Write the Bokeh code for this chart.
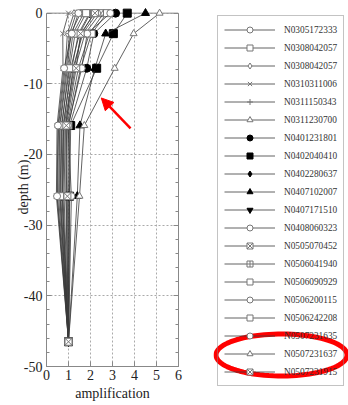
from bokeh.plotting import figure
from bokeh.layouts import row
from bokeh.models import (Range1d, Legend, LegendItem, LinearAxis, FixedTicker,
                          CustomJSTickFormatter, Arrow, NormalHead, BoxAnnotation, Span,
                          PolyAnnotation)
from bokeh.embed import file_html
from bokeh.resources import INLINE
import numpy as np

# ---------------- data ----------------
depths = [0, -2.9, -7.8, -15.9, -25.9, -46.5]

names = ["N0305172333", "N0308042057", "N0308042057", "N0310311006", "N0311150343",
         "N0311230700", "N0401231801", "N0402040410", "N0402280637", "N0407102007",
         "N0407171510", "N0408060323", "N0505070452", "N0506041940", "N0506090929",
         "N0506200115", "N0506242208", "N0507231635", "N0507231637", "N0507231915"]

markers = ["circle", "square", "diamond", "x", "cross",
           "triangle", "circle", "square", "diamond", "triangle",
           "inverted_triangle", "circle", "square_x", "square_cross", "square",
           "circle", "square", "circle", "triangle", "square_x"]

filled = [False, False, False, False, False,
          False, True, True, True, True,
          True, False, False, False, False,
          False, False, False, False, False]

amp_01 = [1.55, 1.10, 0.95, 0.62, 0.60, 1.0]
amp_02 = [2.45, 1.75, 1.30, 0.85, 0.80, 1.0]
amp_03 = [1.25, 0.95, 0.85, 0.55, 0.50, 1.0]
amp_04 = [1.00, 0.74, 0.75, 0.48, 0.45, 1.0]
amp_05 = [1.35, 1.05, 0.90, 0.60, 0.55, 1.0]
amp_06 = [2.60, 1.95, 1.45, 0.95, 0.90, 1.0]
amp_07 = [3.14, 2.15, 1.83, 1.05, 1.00, 1.0]
amp_08 = [3.67, 3.04, 2.28, 1.10, 1.05, 1.0]
amp_09 = [2.15, 1.60, 1.25, 0.80, 0.75, 1.0]
amp_10 = [4.50, 2.69, 2.20, 1.52, 1.40, 1.0]
amp_11 = [1.96, 1.45, 1.15, 0.75, 0.70, 1.0]
amp_12 = [2.30, 1.65, 1.20, 0.88, 0.88, 1.0]
amp_13 = [1.70, 1.20, 1.00, 0.70, 0.65, 1.0]
amp_14 = [2.00, 1.50, 1.10, 0.78, 0.72, 1.0]
amp_15 = [2.75, 2.05, 1.55, 1.00, 1.05, 1.0]
amp_16 = [2.90, 1.85, 1.60, 0.98, 1.13, 1.0]
amp_17 = [1.80, 1.30, 1.05, 0.68, 0.62, 1.0]
amp_18 = [1.45, 1.15, 0.80, 0.52, 0.48, 1.0]
amp_19 = [5.14, 3.96, 3.10, 1.72, 1.50, 1.0]
amp_20 = [2.20, 1.55, 1.35, 0.90, 0.95, 1.0]

amps = [amp_01, amp_02, amp_03, amp_04, amp_05, amp_06, amp_07, amp_08, amp_09, amp_10,
        amp_11, amp_12, amp_13, amp_14, amp_15, amp_16, amp_17, amp_18, amp_19, amp_20]

x_ticks = [0, 1, 2, 3, 4, 5, 6]
y_ticks = [0, -10, -20, -30, -40, -50]
y_minor = list(range(-50, 1, 2))

# arrow annotation (data coords)
arrow_start = (3.82, -16.3)
arrow_end = (2.49, -12.0)

highlight_index = 18  # legend entry circled in red

# ---------------- main figure ----------------
SERIF = "Liberation Serif"
GRAY = "#888888"
p = figure(width=213, height=405, x_range=Range1d(0, 6), y_range=Range1d(-50, 0.8),
           output_backend="svg", toolbar_location=None,
           min_border_left=46, min_border_right=35, min_border_top=7, min_border_bottom=39,
           x_axis_label="amplification", y_axis_label="depth (m)")
p.frame_align = False
p.background_fill_color = "white"
p.outline_line_color = None

p.xaxis.ticker = FixedTicker(ticks=x_ticks)
p.yaxis.ticker = FixedTicker(ticks=y_ticks, minor_ticks=y_minor)
p.yaxis.bounds = (-50, 0)
p.yaxis.major_label_overrides = {t: str(t) for t in y_ticks}
for ax in [p.xaxis[0], p.yaxis[0]]:
    ax.major_label_text_font = SERIF
    ax.major_label_text_font_size = "14px"
    ax.major_label_text_color = "#222222"
    ax.axis_label_text_font = SERIF
    ax.axis_label_text_font_size = "14px"
    ax.axis_label_text_font_style = "normal"
    ax.axis_label_text_color = "#222222"
    ax.axis_line_color = GRAY
    ax.major_tick_in = 5
    ax.major_tick_out = 0
    ax.minor_tick_in = 3
    ax.minor_tick_out = 0
    ax.major_tick_line_color = GRAY
    ax.minor_tick_line_color = GRAY
    ax.major_label_standoff = 4
p.xaxis[0].major_label_standoff = 3
p.xaxis[0].axis_label_standoff = 3
p.yaxis[0].axis_label_standoff = -10

right_ax = LinearAxis(ticker=FixedTicker(ticks=y_ticks, minor_ticks=y_minor),
                      formatter=CustomJSTickFormatter(code="return ''"),
                      bounds=(-50, 0), axis_line_color=GRAY,
                      major_tick_in=5, major_tick_out=0, minor_tick_in=3, minor_tick_out=0,
                      major_tick_line_color=GRAY, minor_tick_line_color=GRAY,
                      major_label_standoff=0)
p.add_layout(right_ax, "right")

p.xgrid.ticker = FixedTicker(ticks=x_ticks)
p.ygrid.ticker = FixedTicker(ticks=y_ticks)
p.grid.grid_line_color = "#aaaaaa"
p.grid.grid_line_dash = "2 2"
p.grid.grid_line_width = 1

# hide the grid above depth 0 and draw the top border at depth 0
p.add_layout(BoxAnnotation(bottom=0, fill_color="white", fill_alpha=1, line_alpha=0,
                           level="underlay"))
p.add_layout(Span(location=0, dimension="width", line_color=GRAY, line_width=1,
                  level="underlay"))

for mk, fl, a in zip(markers, filled, amps):
    p.line(a, depths, line_color="#3a3a3a", line_width=0.8)
    if fl:
        p.scatter(a, depths, marker=mk, size=8, fill_color="black", line_color="black")
    else:
        p.scatter(a, depths, marker=mk, size=7, fill_color="white", line_color="#777777",
                  line_width=1)

p.add_layout(Arrow(x_start=arrow_start[0], y_start=arrow_start[1],
                   x_end=arrow_end[0], y_end=arrow_end[1],
                   line_color="red", line_width=2.5,
                   end=NormalHead(size=12, fill_color="red", line_color="red")))

# ---------------- legend panel ----------------
LW, LH = 135, 405
q = figure(width=LW, height=LH, x_range=Range1d(0, LW), y_range=Range1d(LH, 0),
           output_backend="svg", toolbar_location=None, min_border=0,
           x_axis_location=None, y_axis_location=None)
q.frame_align = False
q.grid.visible = False
q.outline_line_color = None
q.background_fill_color = "white"

nan = float("nan")
items = []
for name, mk, fl in zip(names, markers, filled):
    lr = q.line(x=[nan], y=[nan], line_color="#3a3a3a", line_width=0.8)
    if fl:
        sr = q.scatter(x=[nan], y=[nan], marker=mk, fill_color="black", line_color="black")
    else:
        sr = q.scatter(x=[nan], y=[nan], marker=mk, fill_color="white", line_color="#777777")
    items.append(LegendItem(label=name, renderers=[lr, sr]))

PAD, GH, SP = 6, 15, 3
leg_top = 17
leg_h = 2 * PAD + len(names) * GH + (len(names) - 1) * SP
legend = Legend(items=items, location=(4, LH - leg_top - leg_h), margin=0,
                padding=PAD, spacing=SP, glyph_width=51, glyph_height=GH, label_height=GH,
                label_standoff=9, label_text_font=SERIF, label_text_font_size="9.3px",
                label_text_color="#333333", background_fill_alpha=0,
                border_line_color=GRAY, border_line_width=1.5)
q.add_layout(legend)

# red ellipse around the highlighted legend entry (drawn after the legend)
ey = leg_top + PAD + GH / 2 + highlight_index * (GH + SP)
t = np.linspace(0, 2 * np.pi, 90)
q.add_layout(PolyAnnotation(xs=list(68 + 65.5 * np.cos(t)), ys=list(ey + 21 * np.sin(t)),
                            fill_alpha=0, line_color="red", line_alpha=1, line_width=5))

open("out.html", "w").write(file_html(row(p, q), INLINE))
